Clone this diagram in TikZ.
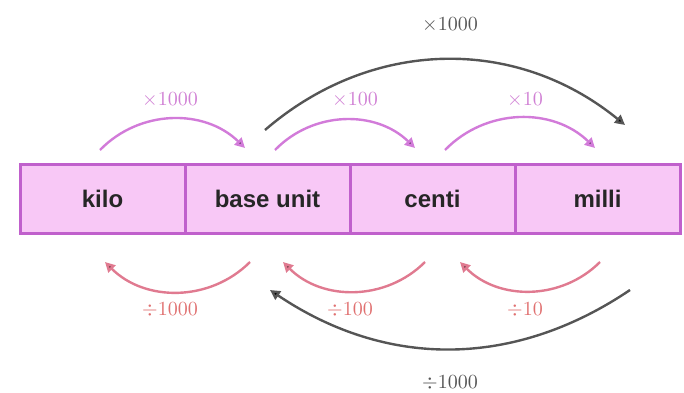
\documentclass[tikz,border=0pt]{standalone}
\usepackage{fontspec}
\setsansfont{Liberation Sans}
\usetikzlibrary{arrows.meta}
\definecolor{boxfill}{HTML}{F8C8F6}
\definecolor{boxline}{HTML}{C060CC}
\definecolor{magarc}{HTML}{D27BD9}
\definecolor{maglab}{HTML}{D080D4}
\definecolor{redarc}{HTML}{E07A90}
\definecolor{redlab}{HTML}{E07070}
\definecolor{darkarc}{HTML}{555555}
\tikzset{
  cell/.style={draw=boxline, line width=1.5pt, fill=boxfill, minimum width=82.5pt, minimum height=34.5pt, inner sep=0pt, outer sep=0pt, font=\sffamily\bfseries\fontsize{12}{14}\selectfont, text=black!85},
  mularc/.style={draw=magarc, line width=1.2pt, -{Triangle[length=5pt,width=5pt,fill=magarc!60!black]}},
  divarc/.style={draw=redarc, line width=1.2pt, -{Triangle[length=5pt,width=5pt,fill=redarc!60!black]}},
  bigarc/.style={draw=darkarc, line width=1.2pt, -{Triangle[length=5pt,width=5pt,fill=black]}},
  mullab/.style={text=maglab, font=\fontsize{10}{12}\selectfont},
  divlab/.style={text=redlab, font=\fontsize{10}{12}\selectfont},
  biglab/.style={text=darkarc, font=\fontsize{10}{12}\selectfont}
}
\begin{document}
\begin{tikzpicture}[x=0.5pt,y=0.5pt]
\useasboundingbox (0,0) rectangle (684,392);
\node[cell] (kilo) at (102.5,193.5) {kilo};
\node[cell] (base) at (267.5,193.5) {base unit};
\node[cell] (centi) at (432.5,193.5) {centi};
\node[cell] (milli) at (597.5,193.5) {milli};
% top coordinates
\coordinate (t1s) at (100,242);
\coordinate (t1e) at (245,244);
\coordinate (t2s) at (275,242);
\coordinate (t2e) at (415,244);
\coordinate (t3s) at (445,242);
\coordinate (t3e) at (595,244);
\coordinate (bs) at (265,262);
\coordinate (be) at (625,267);
% bottom coordinates
\coordinate (r1s) at (250,130);
\coordinate (r1e) at (105,130);
\coordinate (r2s) at (425,130);
\coordinate (r2e) at (283,130);
\coordinate (r3s) at (600,130);
\coordinate (r3e) at (460,130);
\coordinate (ds) at (630,102);
\coordinate (de) at (270,102);
% arcs
\draw[mularc] (t1s) to[bend left=45] (t1e);
\draw[mularc] (t2s) to[bend left=45] (t2e);
\draw[mularc] (t3s) to[bend left=45] (t3e);
\draw[bigarc] (bs) to[bend left=40] (be);
\draw[divarc] (r1s) to[bend left=45] (r1e);
\draw[divarc] (r2s) to[bend left=45] (r2e);
\draw[divarc] (r3s) to[bend left=45] (r3e);
\draw[bigarc] (ds) to[bend left=34] (de);
% labels
\node[mullab] (l1) at (170,292) {$\times$1000};
\node[mullab] (l2) at (355,292) {$\times$100};
\node[mullab] (l3) at (525,292) {$\times$10};
\node[biglab] (l4) at (450,367) {$\times$1000};
\node[divlab] (d1) at (170,82) {$\div$1000};
\node[divlab] (d2) at (350,82) {$\div$100};
\node[divlab] (d3) at (525,82) {$\div$10};
\node[biglab] (d4) at (450,9) {$\div$1000};
\end{tikzpicture}
\end{document}
